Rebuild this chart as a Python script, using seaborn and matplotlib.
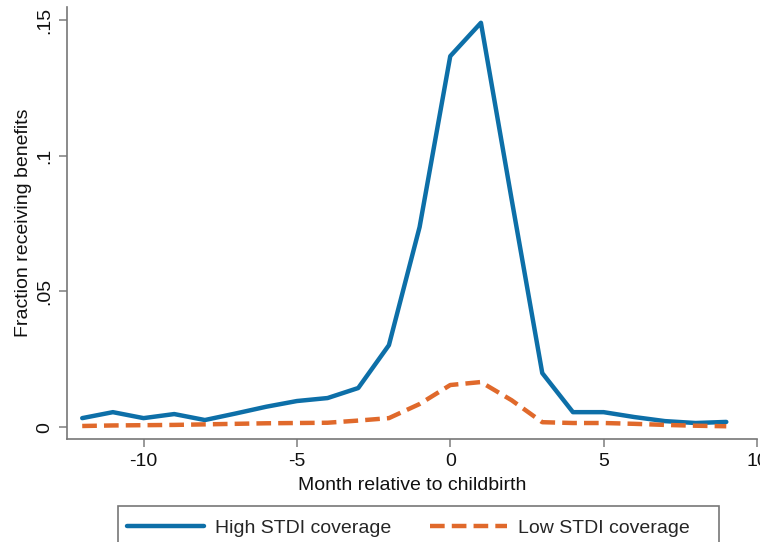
import matplotlib
matplotlib.use("Agg")
import matplotlib.pyplot as plt
from matplotlib.lines import Line2D
from matplotlib.patches import Rectangle
import seaborn as sns
import pandas as pd

# Months relative to childbirth
months = list(range(-12, 10))

# Fraction receiving benefits by state STDI coverage
high_stdi = [0.0033, 0.0055, 0.0033, 0.0048, 0.0026, 0.0050, 0.0075, 0.0096,
             0.0107, 0.0144, 0.0302, 0.0737, 0.1367, 0.1490, 0.0840, 0.0199,
             0.0055, 0.0055, 0.0037, 0.0022, 0.0015, 0.0019]
low_stdi = [0.0004, 0.0006, 0.0007, 0.0008, 0.0010, 0.0012, 0.0014, 0.0015,
            0.0016, 0.0024, 0.0033, 0.0085, 0.0155, 0.0166, 0.0099, 0.0018,
            0.0015, 0.0015, 0.0012, 0.0008, 0.0005, 0.0003]

series_labels = ["High STDI coverage", "Low STDI coverage"]
x_ticks = [-10, -5, 0, 5, 10]
y_ticks = [0, 0.05, 0.10, 0.15]
y_tick_labels = ["0", ".05", ".1", ".15"]

df = pd.concat([
    pd.DataFrame({"month": months, "frac": high_stdi, "group": series_labels[0]}),
    pd.DataFrame({"month": months, "frac": low_stdi, "group": series_labels[1]}),
])

sns.set_style("white")
plt.rcParams["font.family"] = ["Liberation Sans", "DejaVu Sans"]

W, H = 760, 542
fig = plt.figure(figsize=(W / 100, H / 100), dpi=100)
ax = fig.add_axes([0.088, 0.19, 0.908, 0.797])

palette = {series_labels[0]: "#0d6fa8", series_labels[1]: "#e0692b"}
dash_pattern = (3.3, 1.6)
dashes = {series_labels[0]: "", series_labels[1]: dash_pattern}
sns.lineplot(data=df, x="month", y="frac", hue="group", style="group",
             palette=palette, dashes=dashes, linewidth=3.2, ax=ax, legend=False)

ax.set_xlim(-12.5, 10.0)
ax.set_ylim(-0.0044, 0.1548)
ax.set_xticks(x_ticks)
ax.set_xticklabels([str(t) for t in x_ticks])
ax.set_yticks(y_ticks)
ax.set_yticklabels(y_tick_labels, rotation=90, va="center")

for side in ["top", "right"]:
    ax.spines[side].set_visible(False)
for side in ["left", "bottom"]:
    ax.spines[side].set_color("#777777")
    ax.spines[side].set_linewidth(1.2)

fs = 14
ax.tick_params(axis="both", direction="out", length=6, width=1.2,
               color="#888888", labelsize=fs, labelcolor="#111111", pad=4,
               left=True, bottom=True)

ax.set_xlabel("Month relative to childbirth", fontsize=fs, color="#111111", labelpad=5)
ax.set_ylabel("Fraction receiving benefits", fontsize=fs, color="#111111", labelpad=3)

# Legend box below the plot, running past the bottom edge of the figure
fig.patches.append(Rectangle((118 / W, -0.05), (719 - 118) / W, 0.05 + 1 - 506 / H,
                             transform=fig.transFigure, fill=False,
                             edgecolor="#777777", linewidth=1.2, zorder=5))

handles = [
    Line2D([], [], color=palette[series_labels[0]], linewidth=3.2),
    Line2D([], [], color=palette[series_labels[1]], linewidth=3.2,
           linestyle=(0, dash_pattern)),
]
fig.legend(handles, series_labels, loc="upper left",
           bbox_to_anchor=(127 / W, 1 - 519 / H),
           ncol=2, frameon=False, fontsize=fs,
           handlelength=3.95, handletextpad=0.57,
           columnspacing=2.0, borderpad=0, borderaxespad=0)

fig.savefig("out.png", dpi=100, facecolor="white")
